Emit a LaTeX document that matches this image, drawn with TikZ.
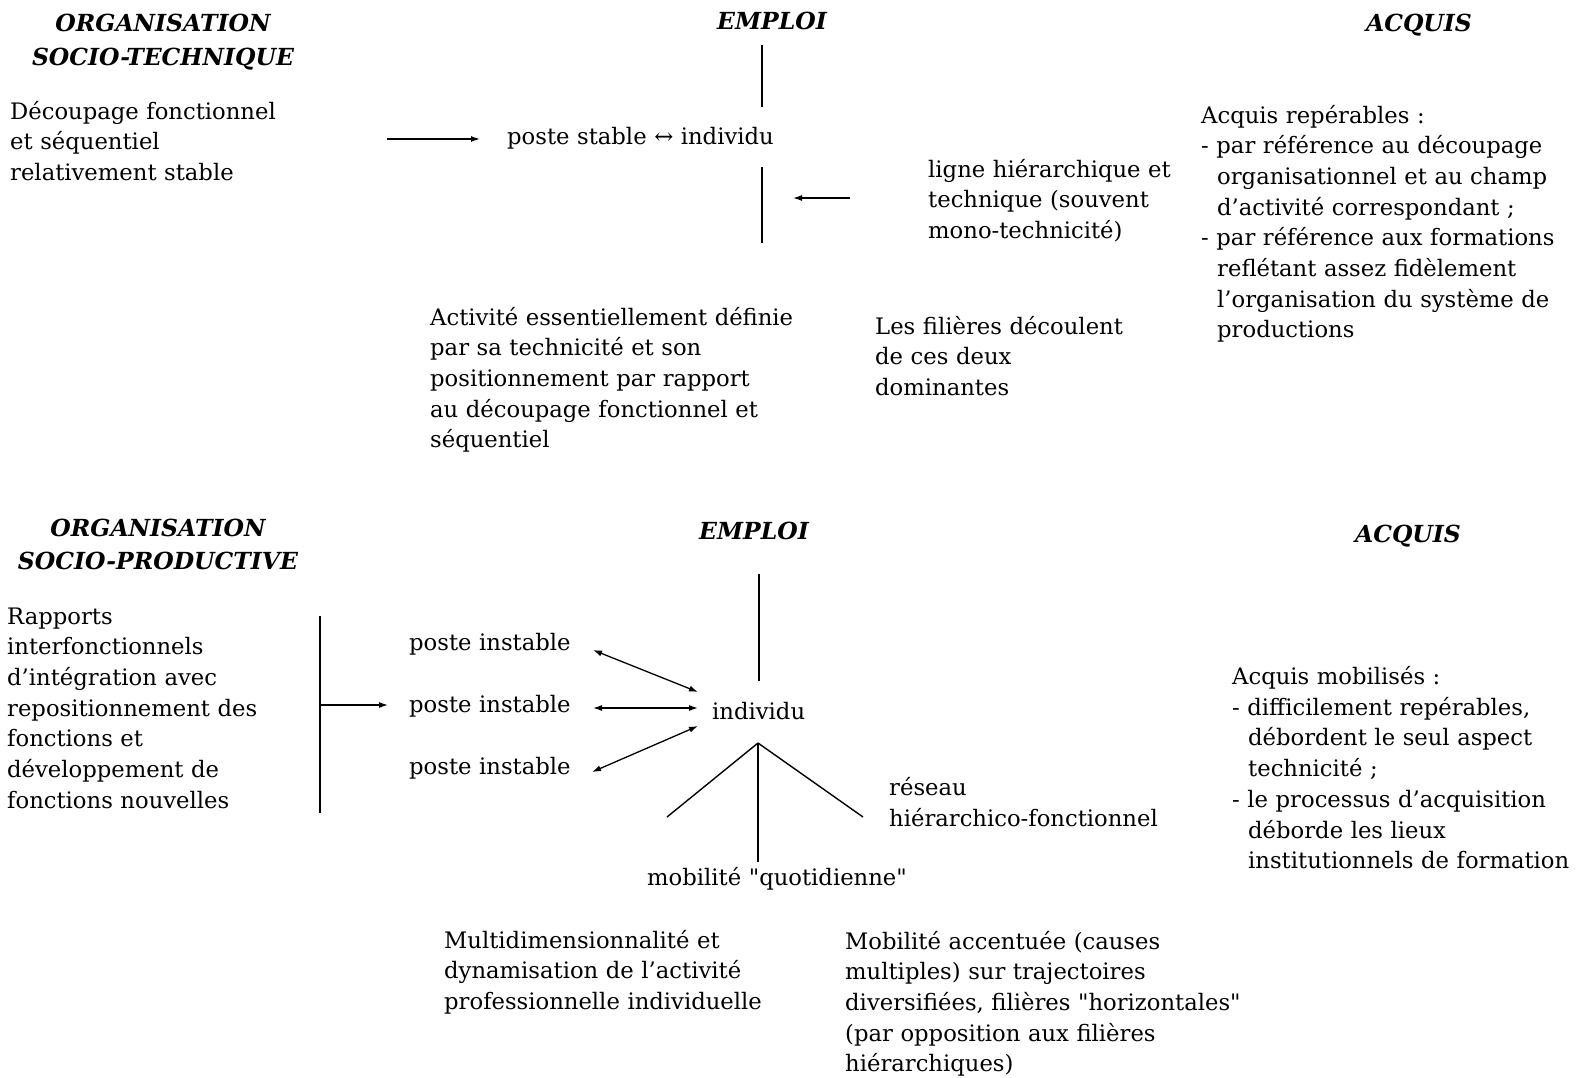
\documentclass[tikz,border=0pt]{standalone}
\usepackage{fontspec}
\setmainfont{DejaVu Serif}[Ligatures=TeXOff]
\usetikzlibrary{arrows.meta}
\begin{document}
\begin{tikzpicture}[x=1pt,y=-1pt,
  txt/.style={font=\fontsize{22.7}{30.7}\selectfont, inner sep=0pt, text width=#1, align=left, anchor=base west},
  txt/.default=450pt,
  head/.style={font=\fontsize{23.5}{33.6}\selectfont\bfseries\itshape, inner sep=0pt, text width=340pt, align=center, anchor=base},
  rule/.style={line width=1.4pt},
  arr/.style={line width=1.3pt, -{Latex[length=9pt,width=6pt]}},
  darr/.style={line width=1.3pt, {Latex[length=9pt,width=6pt]}-{Latex[length=9pt,width=6pt]}}]
\useasboundingbox (0,0) rectangle (1578,1077);

% ---------- upper block: socio-technical organisation ----------
\node[head] (hOrgA) at (163,31.5) {ORGANISATION\\SOCIO-TECHNIQUE};
\node[head] (hEmpA) at (772,29) {EMPLOI};
\node[head] (hAcqA) at (1419,31) {ACQUIS};

\node[txt] (decoup) at (10,119) {Découpage fonctionnel\\et séquentiel\\relativement stable};
\node[txt] (stable) at (507,144) {poste stable ↔ individu};
\coordinate (aStart) at (387,139);
\coordinate (aEnd) at (480,139);
\draw[arr] (aStart) -- (aEnd);

\coordinate (vA1) at (762,45);
\coordinate (vA2) at (762,107);
\coordinate (vA3) at (762,167);
\coordinate (vA4) at (762,243);
\draw[rule] (vA1) -- (vA2);
\draw[rule] (vA3) -- (vA4);

\node[txt] (ligne) at (928,177) {ligne hiérarchique et\\technique (souvent\\mono-technicité)};
\coordinate (lStart) at (850,198);
\coordinate (lEnd) at (793,198);
\draw[arr] (lStart) -- (lEnd);

\node[txt] (acqA) at (1201,123) {Acquis repérables :\\- par référence au découpage\\\hspace*{16pt}organisationnel et au champ\\\hspace*{16pt}d’activité correspondant ;\\- par référence aux formations\\\hspace*{16pt}reflétant assez fidèlement\\\hspace*{16pt}l’organisation du système de\\\hspace*{16pt}productions};

\node[txt] (activ) at (430,325) {Activité essentiellement définie\\par sa technicité et son\\positionnement par rapport\\au découpage fonctionnel et\\séquentiel};
\node[txt] (filA) at (875,334) {Les filières découlent\\de ces deux\\dominantes};

% ---------- lower block: socio-productive organisation ----------
\node[head] (hOrgB) at (158,536) {ORGANISATION\\SOCIO-PRODUCTIVE};
\node[head] (hEmpB) at (754,539) {EMPLOI};
\node[head] (hAcqB) at (1408,542) {ACQUIS};

\node[txt] (rapp) at (7,624) {Rapports\\interfonctionnels\\d’intégration avec\\repositionnement des\\fonctions et\\développement de\\fonctions nouvelles};
\coordinate (bar1) at (320,616);
\coordinate (bar2) at (320,813);
\coordinate (barMid) at (320,705);
\coordinate (barEnd) at (388,705);
\draw[rule] (bar1) -- (bar2);
\draw[arr] (barMid) -- (barEnd);

\node[txt] (pi1) at (409,650) {poste instable};
\node[txt] (pi2) at (409,712.5) {poste instable};
\node[txt] (pi3) at (409,774) {poste instable};
\node[txt] (indiv) at (712,719) {individu};

\coordinate (p1) at (593,650);
\coordinate (p2) at (593,708);
\coordinate (p3) at (592,772);
\coordinate (i1) at (698,692);
\coordinate (i2) at (698,708);
\coordinate (i3) at (698,726);
\draw[darr] (p1) -- (i1);
\draw[darr] (p2) -- (i2);
\draw[darr] (p3) -- (i3);

\coordinate (vB1) at (759,574);
\coordinate (vB2) at (759,681);
\draw[rule] (vB1) -- (vB2);

\coordinate (apex) at (758,743);
\coordinate (legL) at (667,817);
\coordinate (legR) at (863,817);
\coordinate (legD) at (758,862);
\draw[rule] (apex) -- (legL);
\draw[rule] (apex) -- (legR);
\draw[rule] (apex) -- (legD);

\node[txt] (reseau) at (889,795.5) {réseau\\hiérarchico-fonctionnel};
\node[txt] (mobQ) at (647,885) {mobilité "quotidienne"};

\node[txt] (multi) at (444,948) {Multidimensionnalité et\\dynamisation de l’activité\\professionnelle individuelle};
\node[txt] (mobA) at (845,949) {Mobilité accentuée (causes\\multiples) sur trajectoires\\diversifiées, filières "horizontales"\\(par opposition aux filières\\hiérarchiques)};

\node[txt] (acqB) at (1232,684.5) {Acquis mobilisés :\\- difficilement repérables,\\\hspace*{16pt}débordent le seul aspect\\\hspace*{16pt}technicité ;\\- le processus d’acquisition\\\hspace*{16pt}déborde les lieux\\\hspace*{16pt}institutionnels de formation};
\end{tikzpicture}
\end{document}
